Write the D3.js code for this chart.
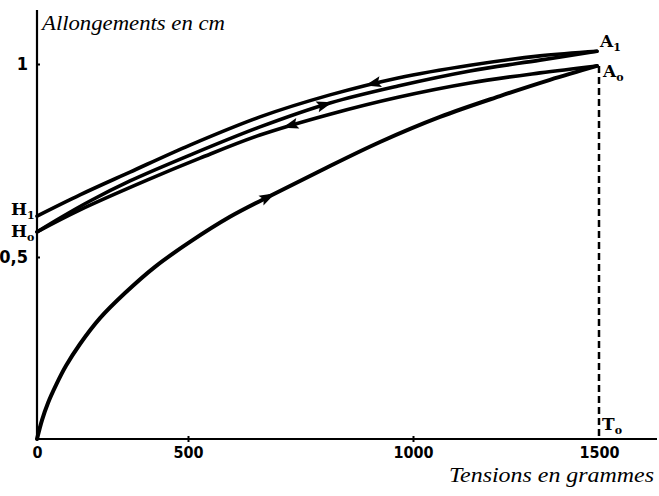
<!DOCTYPE html>
<html>
<head>
<meta charset="utf-8">
<script src="https://cdn.jsdelivr.net/npm/d3@7"></script>
<style>
  body { margin: 0; background: #fff; }
  svg { display: block; }
</style>
</head>
<body>
<svg width="659" height="496"></svg>
<script>
// tensions (g) / allongements (cm)
// O -> A0 (first loading)
var loadGrams = [0, 16.6, 36.4, 62.9, 96, 142.4, 208.6, 291.4, 390.7, 504.4, 593.3, 682.2, 793.3, 926.7, 1072.6, 1233.9, 1368.3, 1494.6];
var loadCm    = [0, 0.052, 0.099, 0.148, 0.201, 0.261, 0.332, 0.401, 0.473, 0.539, 0.604, 0.658, 0.723, 0.798, 0.863, 0.917, 0.959, 0.995];

// A0 -> H0 (first unloading)
var unload0Grams = [0, 142.4, 364.2, 526.7, 660, 815.6, 966.7, 1153.2, 1341.4, 1494.6];
var unload0Cm    = [0.565, 0.622, 0.699, 0.756, 0.816, 0.870, 0.914, 0.951, 0.977, 0.995];

// H0 -> A1 (reloading)
var reloadGrams = [0, 76.2, 175.5, 308, 504.4, 660, 815.6, 966.7, 1153.2, 1341.4, 1494.6];
var reloadCm    = [0.565, 0.601, 0.645, 0.697, 0.764, 0.837, 0.899, 0.943, 0.982, 1.010, 1.033];

// A1 -> H1 (second unloading)
var unload1Grams = [0, 142.4, 308, 504.4, 660, 815.6, 966.7, 1153.2, 1341.4, 1494.6];
var unload1Cm    = [0.606, 0.661, 0.720, 0.790, 0.863, 0.920, 0.964, 0.997, 1.021, 1.033];

var xTicks = [0, 500, 1000, 1500];
var yTicks = [0.5, 1];
var yTickLabels = ["0,5", "1"];

var svg = d3.select("svg");

// the original drawing has uneven tick spacing, so piecewise scales
var x = d3.scaleLinear()
    .domain([0, 500, 1000, 1500])
    .range([37, 188, 413, 599]);
var y = d3.scaleLinear()
    .domain([0, 0.5, 1])
    .range([439, 257, 64]);

var line = d3.line()
    .x(function(d) { return x(d[0]); })
    .y(function(d) { return y(d[1]); })
    .curve(d3.curveCatmullRom.alpha(0.5));

function pairs(xs, ys) { return xs.map(function(v, i) { return [v, ys[i]]; }); }

var labelFont = "'Liberation Sans Narrow', 'DejaVu Sans Condensed', sans-serif";
var letterFont = "'DejaVu Serif', 'Liberation Serif', serif";
var handFont = "'Liberation Serif', 'DejaVu Serif', serif";

// x axis
var xAxis = svg.append("g")
    .attr("transform", "translate(0," + y(0) + ")")
    .call(d3.axisBottom(x).tickValues(xTicks).tickSize(3).tickPadding(5)
      .tickFormat(function(d) { return d; }));
xAxis.select(".domain").remove();
xAxis.selectAll(".tick line").attr("y1", -3).attr("stroke-width", 2);
xAxis.selectAll(".tick").filter(function(d) { return d === 0 || d === 1500; }).select("line").remove();
xAxis.selectAll("text")
    .attr("font-family", labelFont)
    .attr("font-weight", "bold")
    .attr("font-size", 16)
    .attr("fill", "#000");
xAxis.append("line")
    .attr("x1", x(0)).attr("x2", 657)
    .attr("stroke", "#000").attr("stroke-width", 2.2);

// y axis
var yAxis = svg.append("g")
    .attr("transform", "translate(" + x(0) + ",0)")
    .call(d3.axisLeft(y).tickValues(yTicks).tickSize(5).tickPadding(4)
      .tickFormat(function(d, i) { return yTickLabels[i]; }));
yAxis.select(".domain").remove();
yAxis.selectAll(".tick line").attr("x2", 3).attr("stroke-width", 2);
yAxis.selectAll("text")
    .attr("font-family", labelFont)
    .attr("font-weight", "bold")
    .attr("font-size", 18)
    .attr("fill", "#000");
yAxis.append("line")
    .attr("y1", 10).attr("y2", y(0))
    .attr("stroke", "#000").attr("stroke-width", 2.2);

// dashed line at T0
svg.append("line")
    .attr("x1", x(1500)).attr("x2", x(1500))
    .attr("y1", y(0.995)).attr("y2", y(0))
    .attr("stroke", "#000")
    .attr("stroke-width", 2.5)
    .attr("stroke-dasharray", "7,4");

// curves
var curves = [
  { id: "load", data: pairs(loadGrams, loadCm), w: 4 },
  { id: "unload0", data: pairs(unload0Grams, unload0Cm), w: 3.6 },
  { id: "reload", data: pairs(reloadGrams, reloadCm), w: 3.6 },
  { id: "unload1", data: pairs(unload1Grams, unload1Cm), w: 3.6 }
];

var paths = {};
curves.forEach(function(c) {
  paths[c.id] = svg.append("path")
      .attr("fill", "none")
      .attr("stroke", "#000")
      .attr("stroke-width", c.w)
      .attr("stroke-linejoin", "round")
      .attr("stroke-linecap", "round")
      .attr("d", line(c.data));
});

// arrowheads: position in grams along each curve, direction of travel
var arrows = [
  { curve: "load", at: 678, dir: 1 },
  { curve: "unload1", at: 911, dir: -1 },
  { curve: "reload", at: 804, dir: 1 },
  { curve: "unload0", at: 727, dir: -1 }
];

function pointAtX(node, px) {
  var lo = 0, hi = node.getTotalLength();
  for (var k = 0; k < 40; k++) {
    var mid = (lo + hi) / 2;
    if (node.getPointAtLength(mid).x < px) lo = mid; else hi = mid;
  }
  return lo;
}

arrows.forEach(function(a) {
  var node = paths[a.curve].node();
  var l = pointAtX(node, x(a.at));
  var p = node.getPointAtLength(l),
      p0 = node.getPointAtLength(l - 3),
      p1 = node.getPointAtLength(l + 3);
  var ang = Math.atan2(p1.y - p0.y, p1.x - p0.x) * 180 / Math.PI;
  if (a.dir < 0) ang += 180;
  svg.append("path")
      .attr("d", "M8,0 L-8,-5.5 L-5,0 L-8,5.5 Z")
      .attr("fill", "#000")
      .attr("transform", "translate(" + p.x + "," + p.y + ") rotate(" + ang + ")");
});

// point labels with subscripts
function pointLabel(txt, sub, px, py) {
  var t = svg.append("text")
      .attr("x", px).attr("y", py)
      .attr("font-family", letterFont)
      .attr("font-weight", "bold")
      .attr("font-size", 17)
      .attr("fill", "#000")
      .text(txt);
  t.append("tspan")
      .attr("font-size", 11)
      .attr("dy", 4)
      .text(sub);
}
pointLabel("A", "1", 600, 47);
pointLabel("A", "o", 603, 77);
pointLabel("H", "1", 11, 215);
pointLabel("H", "o", 11, 237);
pointLabel("T", "o", 602, 430);

// axis titles
svg.append("text")
    .attr("x", 42).attr("y", 30)
    .attr("font-family", handFont)
    .attr("font-style", "italic")
    .attr("font-size", 22)
    .attr("textLength", 183)
    .attr("lengthAdjust", "spacingAndGlyphs")
    .attr("fill", "#000")
    .text("Allongements en cm");

svg.append("text")
    .attr("x", 449).attr("y", 482)
    .attr("font-family", handFont)
    .attr("font-style", "italic")
    .attr("font-size", 21)
    .attr("textLength", 205)
    .attr("lengthAdjust", "spacingAndGlyphs")
    .attr("fill", "#000")
    .text("Tensions en grammes");
</script>
</body>
</html>
